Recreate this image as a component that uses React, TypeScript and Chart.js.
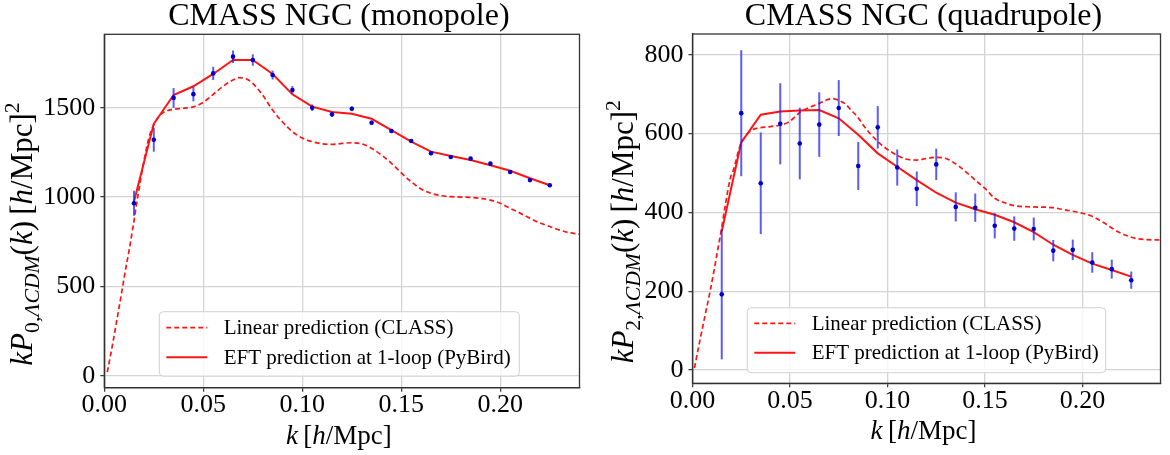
import React, { useEffect, useRef } from "react";
import { Chart, registerables } from "chart.js";
Chart.register(...registerables);

const FONT = '"Liberation Serif", "Times New Roman", Times, serif';

// ---------------- data ----------------
const kData = [0.015, 0.025, 0.035, 0.045, 0.055, 0.065, 0.075, 0.085, 0.095, 0.105, 0.115,
  0.125, 0.135, 0.145, 0.155, 0.165, 0.175, 0.185, 0.195, 0.205, 0.215, 0.225];

const monoValues = [965, 1321, 1555, 1576, 1692, 1786, 1767, 1683, 1599, 1500, 1463,
  1494, 1416, 1370, 1314, 1245, 1224, 1215, 1187, 1140, 1095, 1066];
const monoErrors = [70, 67, 55, 40, 37, 35, 32, 25, 22, 18, 15,
  13, 12, 12, 11, 11, 10, 10, 10, 9, 9, 9];
const monoEFT = [975, 1410, 1571, 1620, 1689, 1767, 1767, 1689, 1575, 1506, 1476,
  1466, 1438, 1375, 1310, 1254, 1230, 1207, 1178, 1147, 1105, 1066];
const monoLinearK = [0.0015, 0.003, 0.0045, 0.006, 0.0075, 0.009, 0.0105, 0.0125, 0.0146, 0.017, 0.02,
  0.0225, 0.025, 0.0275, 0.03, 0.035, 0.04, 0.045, 0.05, 0.055, 0.06, 0.065, 0.068, 0.072,
  0.075, 0.08, 0.085, 0.09, 0.095, 0.1, 0.105, 0.11, 0.115, 0.12, 0.125, 0.13, 0.135, 0.14,
  0.145, 0.15, 0.155, 0.16, 0.165, 0.17, 0.175, 0.18, 0.185, 0.19, 0.195, 0.2, 0.205, 0.21,
  0.215, 0.22, 0.225, 0.23, 0.235, 0.24];
const monoLinearP = [20, 105, 195, 290, 385, 480, 580, 700, 840, 1010, 1200,
  1330, 1405, 1450, 1475, 1491, 1497, 1505, 1530, 1575, 1620, 1655, 1668, 1660,
  1636, 1570, 1487, 1420, 1366, 1330, 1310, 1298, 1295, 1300, 1304, 1298, 1273, 1235,
  1189, 1135, 1086, 1045, 1021, 1008, 1002, 1000, 998, 992, 983, 965, 937, 910,
  881, 855, 835, 815, 800, 792];

const quadValues = [192, 652, 474, 625, 575, 623, 665, 518, 616, 514, 460,
  522, 414, 412, 366, 359, 358, 303, 305, 273, 256, 228];
const quadErrors = [165, 160, 129, 103, 91, 82, 71, 61, 54, 46, 44,
  40, 37, 36, 32, 31, 29, 27, 26, 26, 24, 22];
const quadEFT = [352, 578, 648, 656, 659, 660, 639, 597, 550, 516, 482,
  450, 425, 408, 394, 375, 350, 318, 292, 270, 254, 237];
const quadLinearK = [0.001, 0.004, 0.0065, 0.0092, 0.0115, 0.0133, 0.0146, 0.0167, 0.0193,
  0.021, 0.0245, 0.0275, 0.0304, 0.0334, 0.04, 0.0453, 0.0488, 0.052, 0.0556, 0.06, 0.0642,
  0.068, 0.0719, 0.0753, 0.0785, 0.0813, 0.085, 0.0881, 0.095, 0.1018, 0.1099, 0.115, 0.12,
  0.125, 0.13, 0.137, 0.145, 0.15, 0.155, 0.161, 0.165, 0.175, 0.185, 0.1915, 0.198, 0.204,
  0.2105, 0.219, 0.2274, 0.233, 0.24];
const quadLinearP = [5, 80, 140, 204, 265, 315, 350, 415, 485,
  508, 571, 595, 609, 614, 618, 622, 628, 640, 656, 667, 675,
  684, 689, 684, 675, 660, 640, 618, 580, 554, 535, 533, 537,
  540, 537, 516, 482, 461, 436, 423, 417, 414, 412, 406, 400, 392,
  375, 349, 334, 331, 330];

const xTickValues = [0, 0.05, 0.1, 0.15, 0.2];
const monoYTicks = [0, 500, 1000, 1500];
const quadYTicks = [0, 200, 400, 600, 800];

const legendLabels = ["Linear prediction (CLASS)", "EFT prediction at 1-loop (PyBird)"];

// ---------------- drawing helpers ----------------
type Seg = { t: string; it?: boolean; s?: "sub" | "sup" };

function segFont(seg: Seg, size: number) {
  const sz = seg.s ? size * 0.7 : size;
  return `${seg.it ? "italic " : ""}${sz}px ${FONT}`;
}
function segsWidth(ctx: CanvasRenderingContext2D, segs: Seg[], size: number) {
  let w = 0;
  for (const s of segs) {
    ctx.font = segFont(s, size);
    w += ctx.measureText(s.t).width;
  }
  return w;
}
function drawSegs(ctx: CanvasRenderingContext2D, segs: Seg[], size: number, x0: number, y0: number) {
  let x = x0;
  ctx.textBaseline = "alphabetic";
  ctx.textAlign = "left";
  for (const s of segs) {
    ctx.font = segFont(s, size);
    const dy = s.s === "sub" ? size * 0.22 : s.s === "sup" ? -size * 0.42 : 0;
    ctx.fillText(s.t, x, y0 + dy);
    x += ctx.measureText(s.t).width;
  }
}

const xLabelSegs: Seg[] = [
  { t: "k", it: true }, { t: "\u2009[" }, { t: "h", it: true }, { t: "/Mpc]" },
];
function yLabelSegs(l: string): Seg[] {
  return [
    { t: "k", it: true }, { t: "P", it: true }, { t: l + ",", s: "sub" }, { t: "\u039BCDM", it: true, s: "sub" },
    { t: "(" }, { t: "k", it: true }, { t: ")" }, { t: "\u2009[" }, { t: "h", it: true }, { t: "/Mpc]" },
    { t: "2", s: "sup" },
  ];
}

interface PanelCfg {
  offset: number;
  width: number;
  area: { left: number; right: number; top: number; bottom: number };
  yMin: number;
  yMax: number;
  yTicks: number[];
  title: string;
  titleY: number;
  ylabel: Seg[];
  ylabelX: number;
  ylabelCY: number;
  xlabelY: number;
  legend: { x: number; y: number; w: number; h: number; rows: number[] };
  values: number[];
  errors: number[];
  eft: number[];
  linK: number[];
  linP: number[];
}

const H = 455;
const RED = "rgb(255,20,20)";

function Panel({ cfg }: { cfg: PanelCfg }) {
  const ref = useRef<HTMLCanvasElement | null>(null);
  useEffect(() => {
    const canvas = ref.current;
    if (!canvas) return;
    const a = cfg.area;
    const deco = {
      id: "deco",
      beforeDatasetDraw(chart: any, args: any) {
        if (args.index !== 2) return;
        const ctx: CanvasRenderingContext2D = chart.ctx;
        const xs = chart.scales.x, ys = chart.scales.y;
        ctx.save();
        ctx.strokeStyle = "rgba(30,30,240,0.72)";
        ctx.lineWidth = 2;
        kData.forEach((k, i) => {
          const px = xs.getPixelForValue(k);
          ctx.beginPath();
          ctx.moveTo(px, ys.getPixelForValue(cfg.values[i] - cfg.errors[i]));
          ctx.lineTo(px, ys.getPixelForValue(cfg.values[i] + cfg.errors[i]));
          ctx.stroke();
        });
        ctx.restore();
      },
      afterDraw(chart: any) {
        const ctx: CanvasRenderingContext2D = chart.ctx;
        const ca = chart.chartArea;
        ctx.save();
        // frame
        ctx.strokeStyle = "#333";
        ctx.lineWidth = 1.3;
        ctx.strokeRect(ca.left, ca.top, ca.right - ca.left, ca.bottom - ca.top);
        // title
        ctx.fillStyle = "#000";
        ctx.font = `32px ${FONT}`;
        ctx.textAlign = "center";
        ctx.textBaseline = "alphabetic";
        const cx = (ca.left + ca.right) / 2 - 3;
        ctx.fillText(cfg.title, cx, cfg.titleY);
        // x label
        const xw = segsWidth(ctx, xLabelSegs, 27);
        drawSegs(ctx, xLabelSegs, 27, cx - xw / 2, cfg.xlabelY);
        // y label
        const ysz = 31;
        const yw = segsWidth(ctx, cfg.ylabel, ysz);
        ctx.save();
        ctx.translate(cfg.ylabelX, cfg.ylabelCY);
        ctx.rotate(-Math.PI / 2);
        drawSegs(ctx, cfg.ylabel, ysz, -yw / 2, 0);
        ctx.restore();
        // legend
        const L = cfg.legend;
        const r = 4;
        ctx.beginPath();
        ctx.moveTo(L.x + r, L.y);
        ctx.lineTo(L.x + L.w - r, L.y);
        ctx.arcTo(L.x + L.w, L.y, L.x + L.w, L.y + r, r);
        ctx.lineTo(L.x + L.w, L.y + L.h - r);
        ctx.arcTo(L.x + L.w, L.y + L.h, L.x + L.w - r, L.y + L.h, r);
        ctx.lineTo(L.x + r, L.y + L.h);
        ctx.arcTo(L.x, L.y + L.h, L.x, L.y + L.h - r, r);
        ctx.lineTo(L.x, L.y + r);
        ctx.arcTo(L.x, L.y, L.x + r, L.y, r);
        ctx.closePath();
        ctx.fillStyle = "rgba(255,255,255,0.8)";
        ctx.fill();
        ctx.strokeStyle = "#d0d0d0";
        ctx.lineWidth = 1;
        ctx.stroke();
        legendLabels.forEach((lab, i) => {
          const yy = L.rows[i];
          ctx.beginPath();
          ctx.strokeStyle = RED;
          ctx.lineWidth = i === 0 ? 1.7 : 2;
          ctx.setLineDash(i === 0 ? [5, 3] : []);
          ctx.moveTo(L.x + 7, yy);
          ctx.lineTo(L.x + 48, yy);
          ctx.stroke();
          ctx.setLineDash([]);
          ctx.fillStyle = "#000";
          ctx.font = `21px ${FONT}`;
          ctx.textAlign = "left";
          ctx.textBaseline = "middle";
          ctx.fillText(lab, L.x + 64.4, yy + 1);
        });
        ctx.restore();
      },
    };

    const chart = new Chart(canvas, {
      type: "scatter",
      data: {
        datasets: [
          {
            label: legendLabels[0],
            data: cfg.linK.map((k, i) => ({ x: k, y: cfg.linP[i] })),
            showLine: true,
            borderColor: RED,
            borderWidth: 1.7,
            borderDash: [5, 3],
            pointRadius: 0,
            cubicInterpolationMode: "monotone",
            order: 3,
          },
          {
            label: legendLabels[1],
            data: kData.map((k, i) => ({ x: k, y: cfg.eft[i] })),
            showLine: true,
            borderColor: RED,
            borderWidth: 2,
            pointRadius: 0,
            tension: 0,
            order: 2,
          },
          {
            label: "data",
            data: kData.map((k, i) => ({ x: k, y: cfg.values[i] })),
            showLine: false,
            pointRadius: 2.3,
            pointBackgroundColor: "#0000cc",
            pointBorderWidth: 0,
            order: 1,
          },
        ],
      } as any,
      options: {
        responsive: false,
        animation: false,
        events: [],
        layout: { padding: { left: 0, top: a.top, right: cfg.width - a.right, bottom: 0 } },
        plugins: { legend: { display: false }, tooltip: { enabled: false }, title: { display: false } },
        scales: {
          x: {
            type: "linear",
            min: 0,
            max: 0.24,
            afterBuildTicks: (s: any) => { s.ticks = xTickValues.map((v) => ({ value: v })); },
            afterFit: (s: any) => { s.height = H - a.bottom; },
            ticks: {
              callback: (v: any) => Number(v).toFixed(2),
              font: { family: FONT, size: 26 },
              color: "#000",
              padding: -2,
              maxRotation: 0,
              autoSkip: false,
            },
            grid: { color: "#d4d4d4", lineWidth: 1.3, tickLength: 4, tickColor: "#333", tickWidth: 1.2 },
            border: { color: "#333", width: 1.3 },
          },
          y: {
            type: "linear",
            min: cfg.yMin,
            max: cfg.yMax,
            afterBuildTicks: (s: any) => { s.ticks = cfg.yTicks.map((v) => ({ value: v })); },
            afterFit: (s: any) => { s.width = a.left; },
            ticks: {
              callback: (v: any) => String(Math.round(Number(v))),
              font: { family: FONT, size: 26 },
              color: "#000",
              padding: 5,
              autoSkip: false,
            },
            grid: { color: "#d4d4d4", lineWidth: 1.3, tickLength: 4, tickColor: "#333", tickWidth: 1.2 },
            border: { color: "#333", width: 1.3 },
          },
        },
      } as any,
      plugins: [deco],
    });
    return () => chart.destroy();
  }, [cfg]);
  return (
    <canvas
      ref={ref}
      width={cfg.width}
      height={H}
      style={{ position: "absolute", left: cfg.offset, top: 0, width: cfg.width, height: H }}
    />
  );
}

const leftCfg: PanelCfg = {
  offset: 0,
  width: 585,
  area: { left: 104.3, right: 579.5, top: 34.3, bottom: 387.7 },
  yMin: -67.2,
  yMax: 1911,
  yTicks: monoYTicks,
  title: "CMASS NGC (monopole)",
  titleY: 25,
  ylabel: yLabelSegs("0"),
  ylabelX: 32,
  ylabelCY: 234,
  xlabelY: 444,
  legend: { x: 159.3, y: 311.7, w: 360, h: 64.5, rows: [327.7, 357.3] },
  values: monoValues,
  errors: monoErrors,
  eft: monoEFT,
  linK: monoLinearK,
  linP: monoLinearP,
};

const rightCfg: PanelCfg = {
  offset: 585,
  width: 585,
  area: { left: 107.5, right: 575.5, top: 34, bottom: 383.3 },
  yMin: -33.8,
  yMax: 853,
  yTicks: quadYTicks,
  title: "CMASS NGC (quadrupole)",
  titleY: 25,
  ylabel: yLabelSegs("2"),
  ylabelX: 48,
  ylabelCY: 231.7,
  xlabelY: 438.5,
  legend: { x: 162.3, y: 307.7, w: 358.4, h: 65, rows: [323.3, 352.7] },
  values: quadValues,
  errors: quadErrors,
  eft: quadEFT,
  linK: quadLinearK,
  linP: quadLinearP,
};

export default function App() {
  return (
    <div style={{ position: "fixed", left: 0, top: 0, width: 1170, height: H, background: "#fff" }}>
      <Panel cfg={leftCfg} />
      <Panel cfg={rightCfg} />
    </div>
  );
}
